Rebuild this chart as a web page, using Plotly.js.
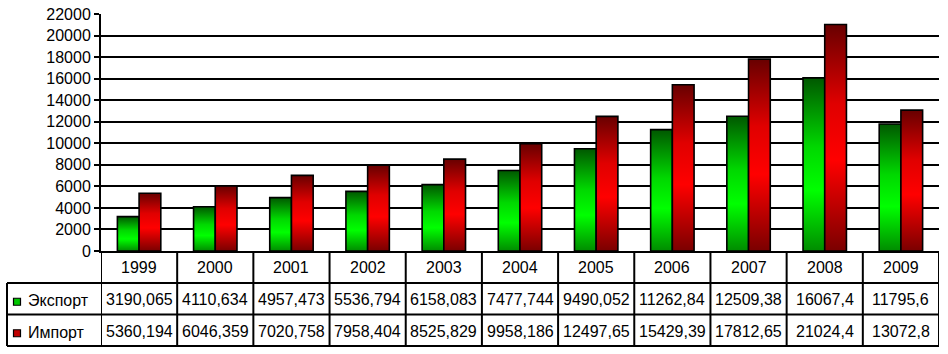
<!DOCTYPE html>
<html>
<head>
<meta charset="utf-8">
<script src="https://cdn.plot.ly/plotly-3.0.1.min.js"></script>
<style>html,body{margin:0;padding:0;background:#fff;}#chart{width:948px;height:354px;}</style>
</head>
<body>
<div id="chart"></div>
<script>
const years = ['1999','2000','2001','2002','2003','2004','2005','2006','2007','2008','2009'];
const exportVals = [3190.065, 4110.634, 4957.473, 5536.794, 6158.083, 7477.744, 9490.052, 11262.84, 12509.38, 16067.4, 11795.6];
const importVals = [5360.194, 6046.359, 7020.758, 7958.404, 8525.829, 9958.186, 12497.65, 15429.39, 17812.65, 21024.4, 13072.8];
const seriesNames = ['Экспорт', 'Импорт'];

const BW = 0.285;
const greenScale = [[0,'#008c00'],[0.35,'#00ff00'],[0.6,'#00d800'],[1,'#005800']];
const redScale = [[0,'#7a0000'],[0.4,'#ff0000'],[0.65,'#e00000'],[1,'#680000']];

const traces = [];
function barTrace(i, v, left, scale, name) {
  const x0 = i + (left ? -BW : 0), x1 = x0 + BW;
  return {
    type: 'scatter', mode: 'lines', name: name, showlegend: false, hoverinfo: 'skip',
    x: [x0, x0, x1, x1, x0], y: [0, v, v, 0, 0],
    fill: 'toself',
    fillgradient: {type: 'vertical', colorscale: scale},
    line: {color: '#000', width: 1.6}
  };
}
years.forEach((y, i) => {
  traces.push(barTrace(i, exportVals[i], true, greenScale, seriesNames[0]));
  traces.push(barTrace(i, importVals[i], false, redScale, seriesNames[1]));
});

const PH = 237; // plot height px
const py = p => -p / PH; // px below axis -> paper
const rows = [0, 32, 63.5, 95];
const leftPx = 94, PW = 838;
const shapes = [];
const line = {color: '#000', width: 2};
for (let k = 0; k <= years.length; k++) {
  shapes.push({type: 'line', xref: 'x', yref: 'paper', x0: k - 0.5, x1: k - 0.5, y0: 0, y1: py(rows[3]), line: line});
}
shapes.push({type: 'line', xref: 'paper', yref: 'paper', x0: -leftPx/PW, x1: -leftPx/PW, y0: py(rows[1]), y1: py(rows[3]), line: line});
for (let r = 1; r <= 3; r++) {
  shapes.push({type: 'line', xref: 'paper', yref: 'paper', x0: -leftPx/PW, x1: 1, y0: py(rows[r]), y1: py(rows[r]), line: line});
}
const keyColors = ['#00c800', '#c00000'];
[0, 1].forEach(s => {
  const c = (rows[s+1] + rows[s+2]) / 2 + 3;
  shapes.push({type: 'rect', xref: 'paper', yref: 'paper',
    x0: -(101-13.5)/PW, x1: -(101-20.5)/PW, y0: py(c - 3.5), y1: py(c + 3.5),
    fillcolor: keyColors[s], line: {color: '#000', width: 1.2}});
});

const font = {family: 'Liberation Sans, Arial, sans-serif', size: 16, color: '#000'};
const annotations = [];
const fmt = v => String(v).replace('.', ',');
years.forEach((y, i) => {
  annotations.push({xref: 'x', yref: 'paper', x: i, y: py((rows[0]+rows[1])/2 + 0.5), text: y, showarrow: false, font: font, xanchor: 'center', yanchor: 'middle'});
  annotations.push({xref: 'x', yref: 'paper', x: i, y: py((rows[1]+rows[2])/2 + 1), text: fmt(exportVals[i]), showarrow: false, font: font, xanchor: 'center', yanchor: 'middle'});
  annotations.push({xref: 'x', yref: 'paper', x: i, y: py((rows[2]+rows[3])/2 + 1), text: fmt(importVals[i]), showarrow: false, font: font, xanchor: 'center', yanchor: 'middle'});
});
seriesNames.forEach((n, s) => {
  annotations.push({xref: 'paper', yref: 'paper', x: -(101-26)/PW, y: py((rows[s+1]+rows[s+2])/2 + 2), text: n, showarrow: false, font: font, xanchor: 'left', yanchor: 'middle'});
});

const layout = {
  width: 948, height: 354,
  margin: {l: 101, r: 9, t: 14, b: 103},
  paper_bgcolor: '#fff', plot_bgcolor: '#fff',
  showlegend: false,
  font: font,
  xaxis: {range: [-0.5, years.length - 0.5], showticklabels: false, showgrid: false, zeroline: false,
          showline: true, linecolor: '#000', linewidth: 2, ticks: '', fixedrange: true},
  yaxis: {range: [0, 22000], dtick: 2000, tick0: 0, tickformat: 'd', showgrid: true, gridcolor: '#000', gridwidth: 2,
          zeroline: false, showline: true, linecolor: '#000', linewidth: 2, ticks: 'outside', ticklen: 5,
          tickcolor: '#000', tickwidth: 2, tickfont: font, fixedrange: true},
  shapes: shapes,
  annotations: annotations
};
Plotly.newPlot('chart', traces, layout, {displayModeBar: false, staticPlot: true});
</script>
</body>
</html>
